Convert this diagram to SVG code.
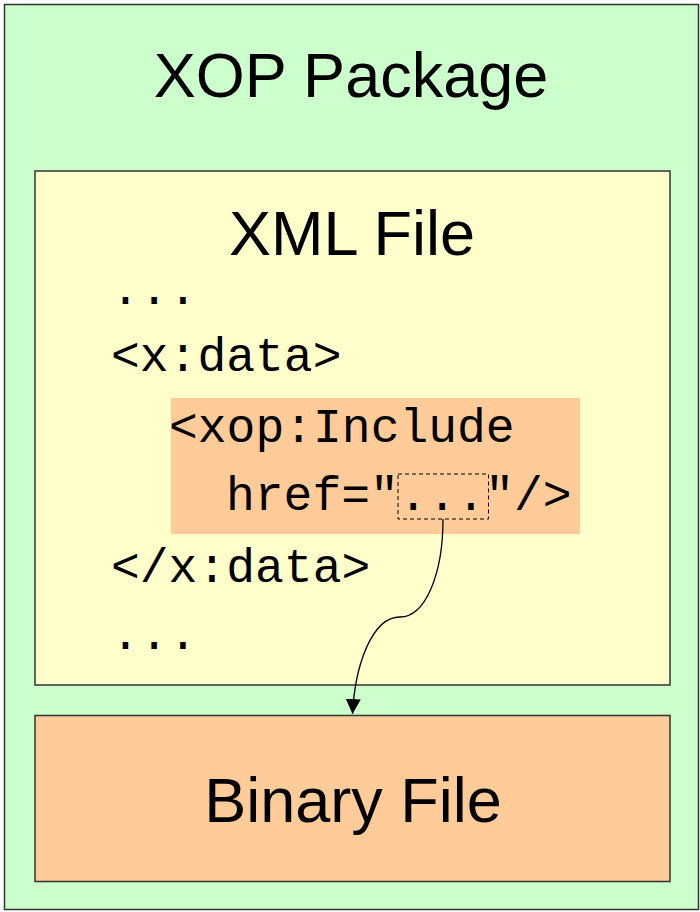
<svg xmlns="http://www.w3.org/2000/svg" width="700" height="912" viewBox="0 0 700 912">
  <defs>
    <style>
      .box { stroke: #333; stroke-width: 1.5; }
      .title { font-family: "Liberation Sans", Arial, sans-serif; font-size: 63px; fill: #000; text-anchor: middle; }
      .code { font-family: "Liberation Mono", "Courier New", monospace; font-size: 48px; fill: #000; white-space: pre; }
      .link { fill: none; stroke: #000; stroke-width: 1.3; }
    </style>
    <marker id="arrow" viewBox="0 0 10 10" refX="10" refY="5" markerWidth="15" markerHeight="15" markerUnits="userSpaceOnUse" orient="auto">
      <path d="M0,0 L10,5 L0,10 Z" fill="#000"/>
    </marker>
  </defs>

  <!-- package container -->
  <g id="xop-package">
    <rect class="box" x="4.5" y="4.5" width="694" height="905" fill="#CCFFCC" stroke="#444"/>
    <text class="title" x="351" y="97" font-size="64">XOP Package</text>
  </g>

  <!-- XML document -->
  <g id="xml-file">
    <rect class="box" x="35" y="171" width="635" height="514" fill="#FFFFCC"/>
    <text class="title" x="352" y="255">XML File</text>
    <text class="code" x="111" y="304">...</text>
    <text class="code" x="111" y="371">&lt;x:data&gt;</text>
    <text class="code" x="111" y="582">&lt;/x:data&gt;</text>
    <text class="code" x="111" y="649">...</text>
  </g>

  <!-- include element -->
  <g id="xop-include">
    <rect x="171" y="398" width="409" height="136" fill="#FFCC99"/>
    <text class="code" x="169" y="442">&lt;xop:Include</text>
    <text class="code" x="226" y="510">href="..."/&gt;</text>
    <rect x="398" y="474" width="90.5" height="45" fill="none" stroke="#000" stroke-width="1" stroke-dasharray="4,3"/>
  </g>

  <!-- binary part -->
  <g id="binary-file">
    <rect class="box" x="35" y="715.5" width="635" height="166" fill="#FFCC99"/>
    <text class="title" x="353" y="822">Binary File</text>
  </g>

  <!-- reference from href to the binary part -->
  <g id="connectors">
    <path class="link" d="M443,519 C443,575 425,617 400,617 C372,617 355,665 352.5,714" marker-end="url(#arrow)"/>
  </g>
</svg>
